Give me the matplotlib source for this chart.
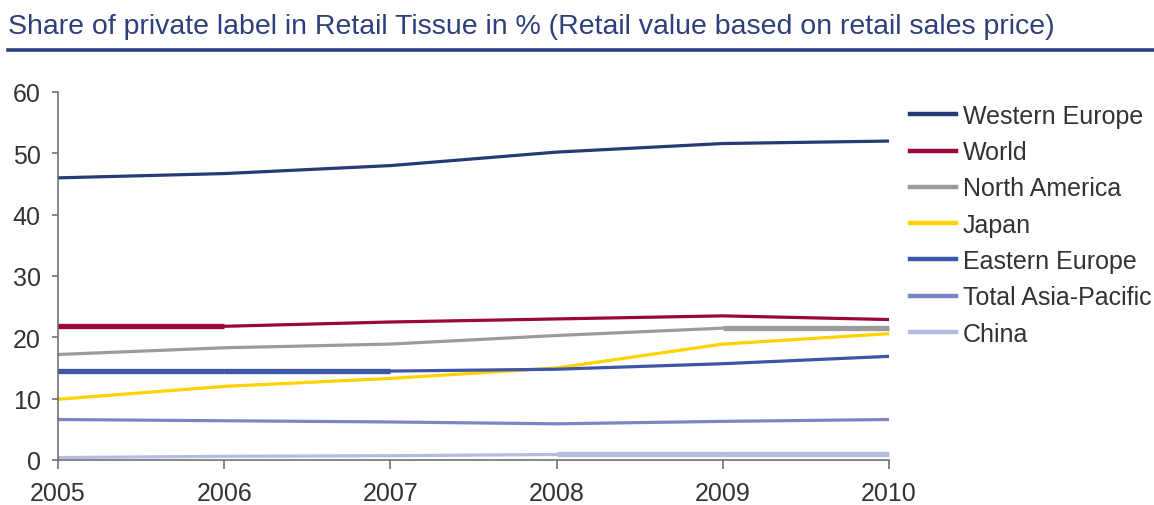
import matplotlib
matplotlib.use("Agg")
import matplotlib.pyplot as plt
from matplotlib import font_manager
from matplotlib.lines import Line2D

years = [2005, 2006, 2007, 2008, 2009, 2010]

western_europe = [46.0, 46.7, 48.0, 50.2, 51.6, 52.0]
world = [21.8, 21.8, 22.5, 23.0, 23.5, 22.9]
north_america = [17.2, 18.3, 18.9, 20.3, 21.5, 21.5]
japan = [9.9, 12.0, 13.3, 15.0, 18.9, 20.6]
eastern_europe = [14.5, 14.5, 14.5, 14.8, 15.7, 16.9]
asia_pacific = [6.6, 6.4, 6.2, 5.9, 6.3, 6.6]
china = [0.4, 0.6, 0.7, 0.9, 0.9, 0.9]

series_names = ["Western Europe", "World", "North America", "Japan",
                "Eastern Europe", "Total Asia-Pacific", "China"]
series_colors = ["#243b73", "#9a0836", "#9b9b9b", "#ffd200",
                 "#3d55a8", "#7a86c2", "#b4bce0"]

title_text = "Share of private label in Retail Tissue in % (Retail value based on retail sales price)"

names = {f.name for f in font_manager.fontManager.ttflist}
base_font = "Liberation Sans" if "Liberation Sans" in names else "DejaVu Sans"
plt.rcParams["font.family"] = [base_font, "DejaVu Sans"]

fig = plt.figure(figsize=(11.54, 5.06), dpi=100)
ax = fig.add_axes([58 / 1154, 1 - 461 / 506, (889 - 58) / 1154, (461 - 93) / 506])

all_series = [western_europe, world, north_america, japan,
              eastern_europe, asia_pacific, china]
for vals, color in zip(all_series, series_colors):
    ax.plot(years, vals, color=color, lw=2.3, solid_capstyle="butt", clip_on=False)
    # flat stretches come out heavier
    for i in range(len(years) - 1):
        if vals[i] == vals[i + 1]:
            ax.plot(years[i:i + 2], vals[i:i + 2], color=color, lw=3.8,
                    solid_capstyle="butt", clip_on=False)

ax.set_xlim(2005, 2010)
ax.set_ylim(0, 60)
ax.set_xticks(years)
ax.set_yticks(range(0, 61, 10))

for side in ["top", "right"]:
    ax.spines[side].set_visible(False)
for side in ["left", "bottom"]:
    ax.spines[side].set_color("#666666")
    ax.spines[side].set_linewidth(1.1)

ax.tick_params(axis="y", length=4.5, width=1.1, color="#666666", pad=8,
               labelsize=18, labelcolor="#333333")
ax.tick_params(axis="x", length=6.5, width=1.1, color="#666666", pad=8.5,
               labelsize=18, labelcolor="#333333")

handles = [Line2D([], [], color=c, lw=3.2) for c in series_colors]
leg = fig.legend(handles, series_names, loc="upper left",
                 bbox_to_anchor=(910 / 1154, 1 - 105 / 506), frameon=False,
                 fontsize=18, handlelength=1.84, handletextpad=0.28,
                 labelspacing=0.49, borderaxespad=0, borderpad=0)
for t in leg.get_texts():
    t.set_color("#333333")

fig.text(8 / 1154, 1 - 27 / 506, title_text, fontsize=20.5, color="#2e3f7c",
         va="center", ha="left")
fig.add_artist(Line2D([8 / 1154, 1.0], [1 - 50.5 / 506, 1 - 50.5 / 506],
                      color="#2e3f7c", lw=2.6, transform=fig.transFigure))

fig.savefig("out.png", dpi=100)
